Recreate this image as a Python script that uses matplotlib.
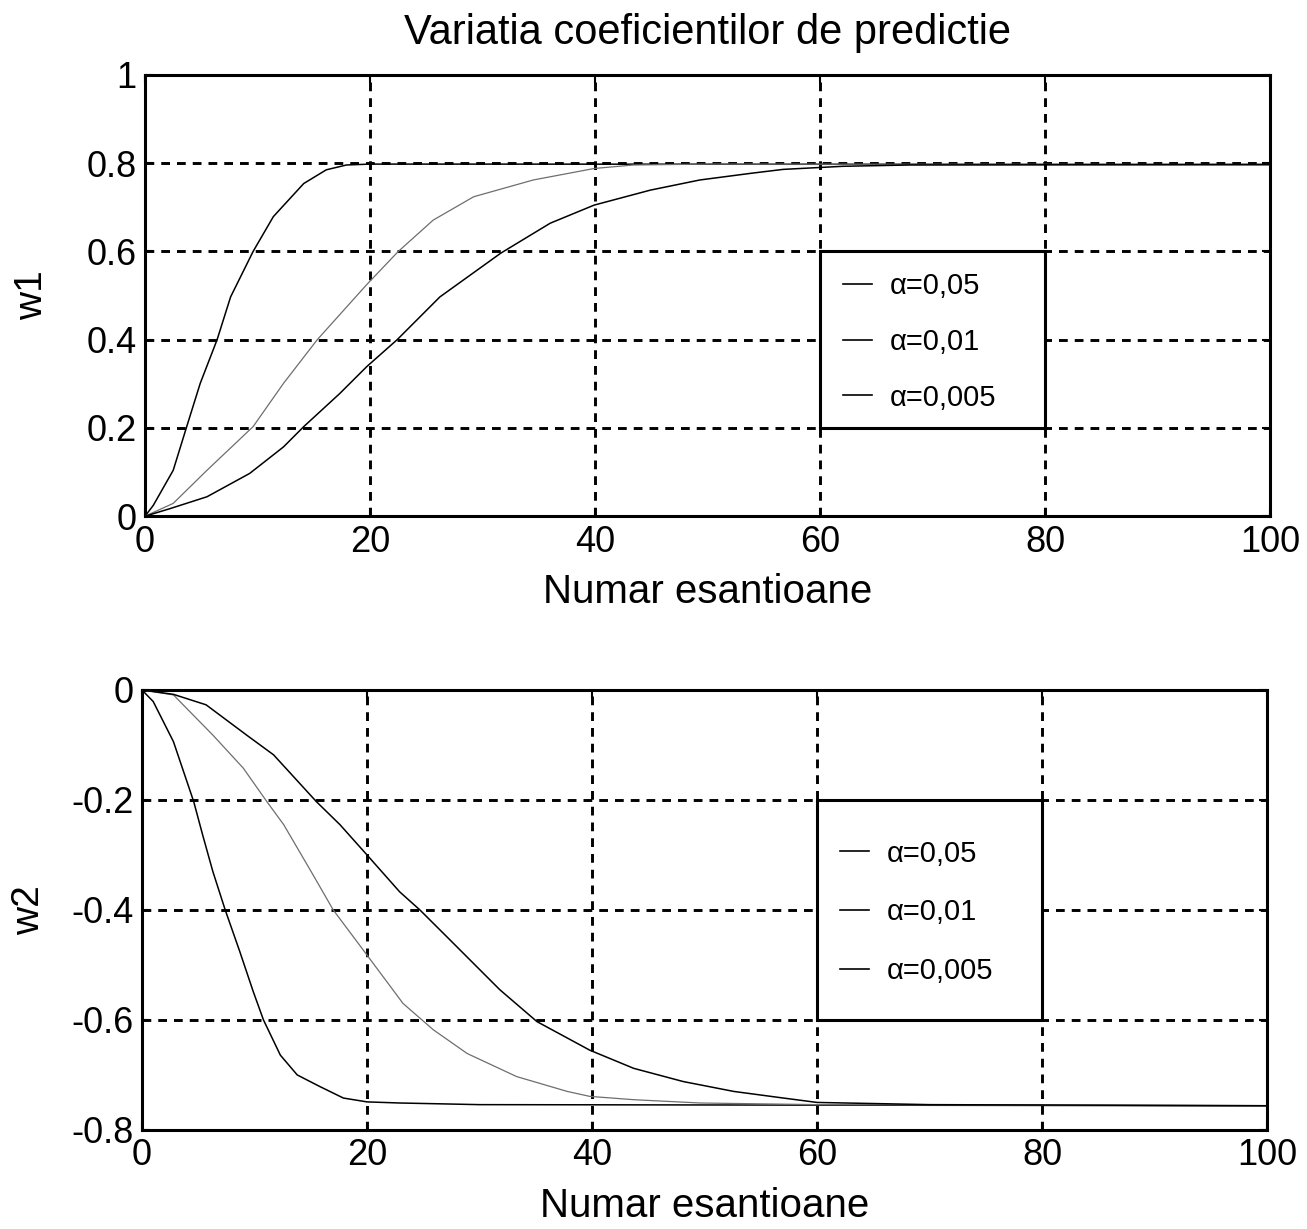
import matplotlib.pyplot as plt
from matplotlib.patches import Rectangle

# values
n1_fast = [0, 0.74, 2.5, 3.7, 4.9, 6.4, 7.6, 9.6, 11.4, 14.1, 16.1, 17.9, 20, 30, 100]
w1_fast = [0, 0.025, 0.104, 0.203, 0.301, 0.40, 0.497, 0.60, 0.679, 0.754, 0.785, 0.796, 0.798, 0.798, 0.797]

n1_mid = [0, 2.5, 5.5, 9.6, 12.3, 15.3, 19.7, 22.5, 25.6, 29.2, 34.5, 39.9, 43.4, 50, 100]
w1_mid = [0, 0.029, 0.104, 0.203, 0.301, 0.40, 0.525, 0.60, 0.671, 0.724, 0.762, 0.788, 0.796, 0.798, 0.797]

n1_slow = [0, 2.2, 5.5, 9.3, 12.3, 14.1, 17.3, 19.7, 22.4, 26.2, 31.6, 36.0, 39.9, 44.9,
           49.3, 53.8, 56.7, 62, 68, 100]
w1_slow = [0, 0.017, 0.044, 0.097, 0.157, 0.203, 0.278, 0.339, 0.40, 0.497, 0.596, 0.664,
           0.705, 0.739, 0.762, 0.777, 0.786, 0.793, 0.796, 0.797]

n2_fast = [0, 1.0, 2.8, 4.6, 5.4, 6.3, 7.4, 8.7, 9.9, 10.8, 12.3, 13.8, 15.8, 17.9, 20,
           22.9, 30, 100]
w2_fast = [0, -0.021, -0.094, -0.203, -0.264, -0.330, -0.40, -0.476, -0.549, -0.60, -0.664,
           -0.70, -0.721, -0.742, -0.749, -0.751, -0.754, -0.756]

n2_mid = [0, 2.8, 6.3, 9.0, 11.1, 12.6, 15.2, 17.0, 20.0, 23.2, 25.9, 28.9, 33.3, 37.8,
          39.8, 43.7, 49.6, 60, 100]
w2_mid = [0, -0.009, -0.082, -0.142, -0.203, -0.245, -0.336, -0.40, -0.482, -0.570, -0.618,
          -0.661, -0.703, -0.730, -0.739, -0.745, -0.751, -0.754, -0.756]

n2_slow = [0, 2.8, 5.7, 9.3, 11.7, 15.5, 17.6, 20.0, 22.9, 24.7, 27.4, 31.8, 35.1, 39.8,
           43.7, 48.1, 52.6, 57.0, 60, 70, 100]
w2_slow = [0, -0.008, -0.027, -0.082, -0.118, -0.203, -0.245, -0.30, -0.367, -0.40, -0.455,
           -0.545, -0.603, -0.655, -0.688, -0.712, -0.730, -0.742, -0.750, -0.754, -0.756]

labels = ['α=0,05', 'α=0,01', 'α=0,005']
xticks = [0, 20, 40, 60, 80, 100]
yticks1 = [0, 0.2, 0.4, 0.6, 0.8, 1]
yticks1_lbl = ['0', '0.2', '0.4', '0.6', '0.8', '1']
yticks2 = [0, -0.2, -0.4, -0.6, -0.8]
yticks2_lbl = ['0', '-0.2', '-0.4', '-0.6', '-0.8']

plt.rcParams['font.family'] = ['Liberation Sans', 'DejaVu Sans']

fig = plt.figure(figsize=(13.07, 12.29), dpi=100)
ax1 = fig.add_axes([0.111, 0.580, 0.861, 0.359])
ax2 = fig.add_axes([0.1086, 0.0806, 0.861, 0.358])

colors = ['black', '#6e6e6e', 'black']
widths = [1.1, 0.9, 1.1]


def setup(ax, yticks, ylbls, ylim, ylabel, box):
    ax.set_xlim(0, 100)
    ax.set_ylim(*ylim)
    ax.set_xticks(xticks)
    ax.set_yticks(yticks)
    ax.set_yticklabels(ylbls)
    ax.tick_params(direction='in', length=6, width=1.5, labelsize=26, pad=6,
                   top=True, right=True)
    ax.grid(True, color='black', linestyle=(0, (3.0, 2.4)), linewidth=2.1)
    for s in ax.spines.values():
        s.set_linewidth(2.2)
    ax.set_xlabel('Numar esantioane', fontsize=29, labelpad=10)
    ax.set_ylabel(ylabel, fontsize=28)
    ax.yaxis.set_label_coords(-0.084, 0.5)
    # legend box sits on the grid cell 60..80, white inside
    ax.add_patch(Rectangle((60, box[0]), 20, box[1] - box[0], facecolor='white',
                           edgecolor='black', linewidth=2.2, zorder=3))


for ax, data in [(ax1, [(n1_fast, w1_fast), (n1_mid, w1_mid), (n1_slow, w1_slow)]),
                 (ax2, [(n2_fast, w2_fast), (n2_mid, w2_mid), (n2_slow, w2_slow)])]:
    for (n, w), c, lw, lab in zip(data, colors, widths, labels):
        ax.plot(n, w, color=c, linewidth=lw, label=lab, zorder=4)

setup(ax1, yticks1, yticks1_lbl, (0, 1), 'w1', (0.2, 0.6))
setup(ax2, yticks2, yticks2_lbl, (-0.8, 0), 'w2', (-0.6, -0.2))

ax1.set_title('Variatia coeficientilor de predictie', fontsize=30, pad=22)

for ax, anchor, sp in [(ax1, (0.597, 0.395), 0.95), (ax2, (0.597, 0.495), 1.05)]:
    leg = ax.legend(loc='center left', bbox_to_anchor=anchor, frameon=False,
                    fontsize=21, handlelength=1.0, handletextpad=0.6,
                    labelspacing=sp)
    for h in leg.get_lines():
        h.set_color('black')
        h.set_linewidth(1.2)
    leg.set_zorder(5)

fig.savefig('out.png', dpi=100, facecolor='white')
